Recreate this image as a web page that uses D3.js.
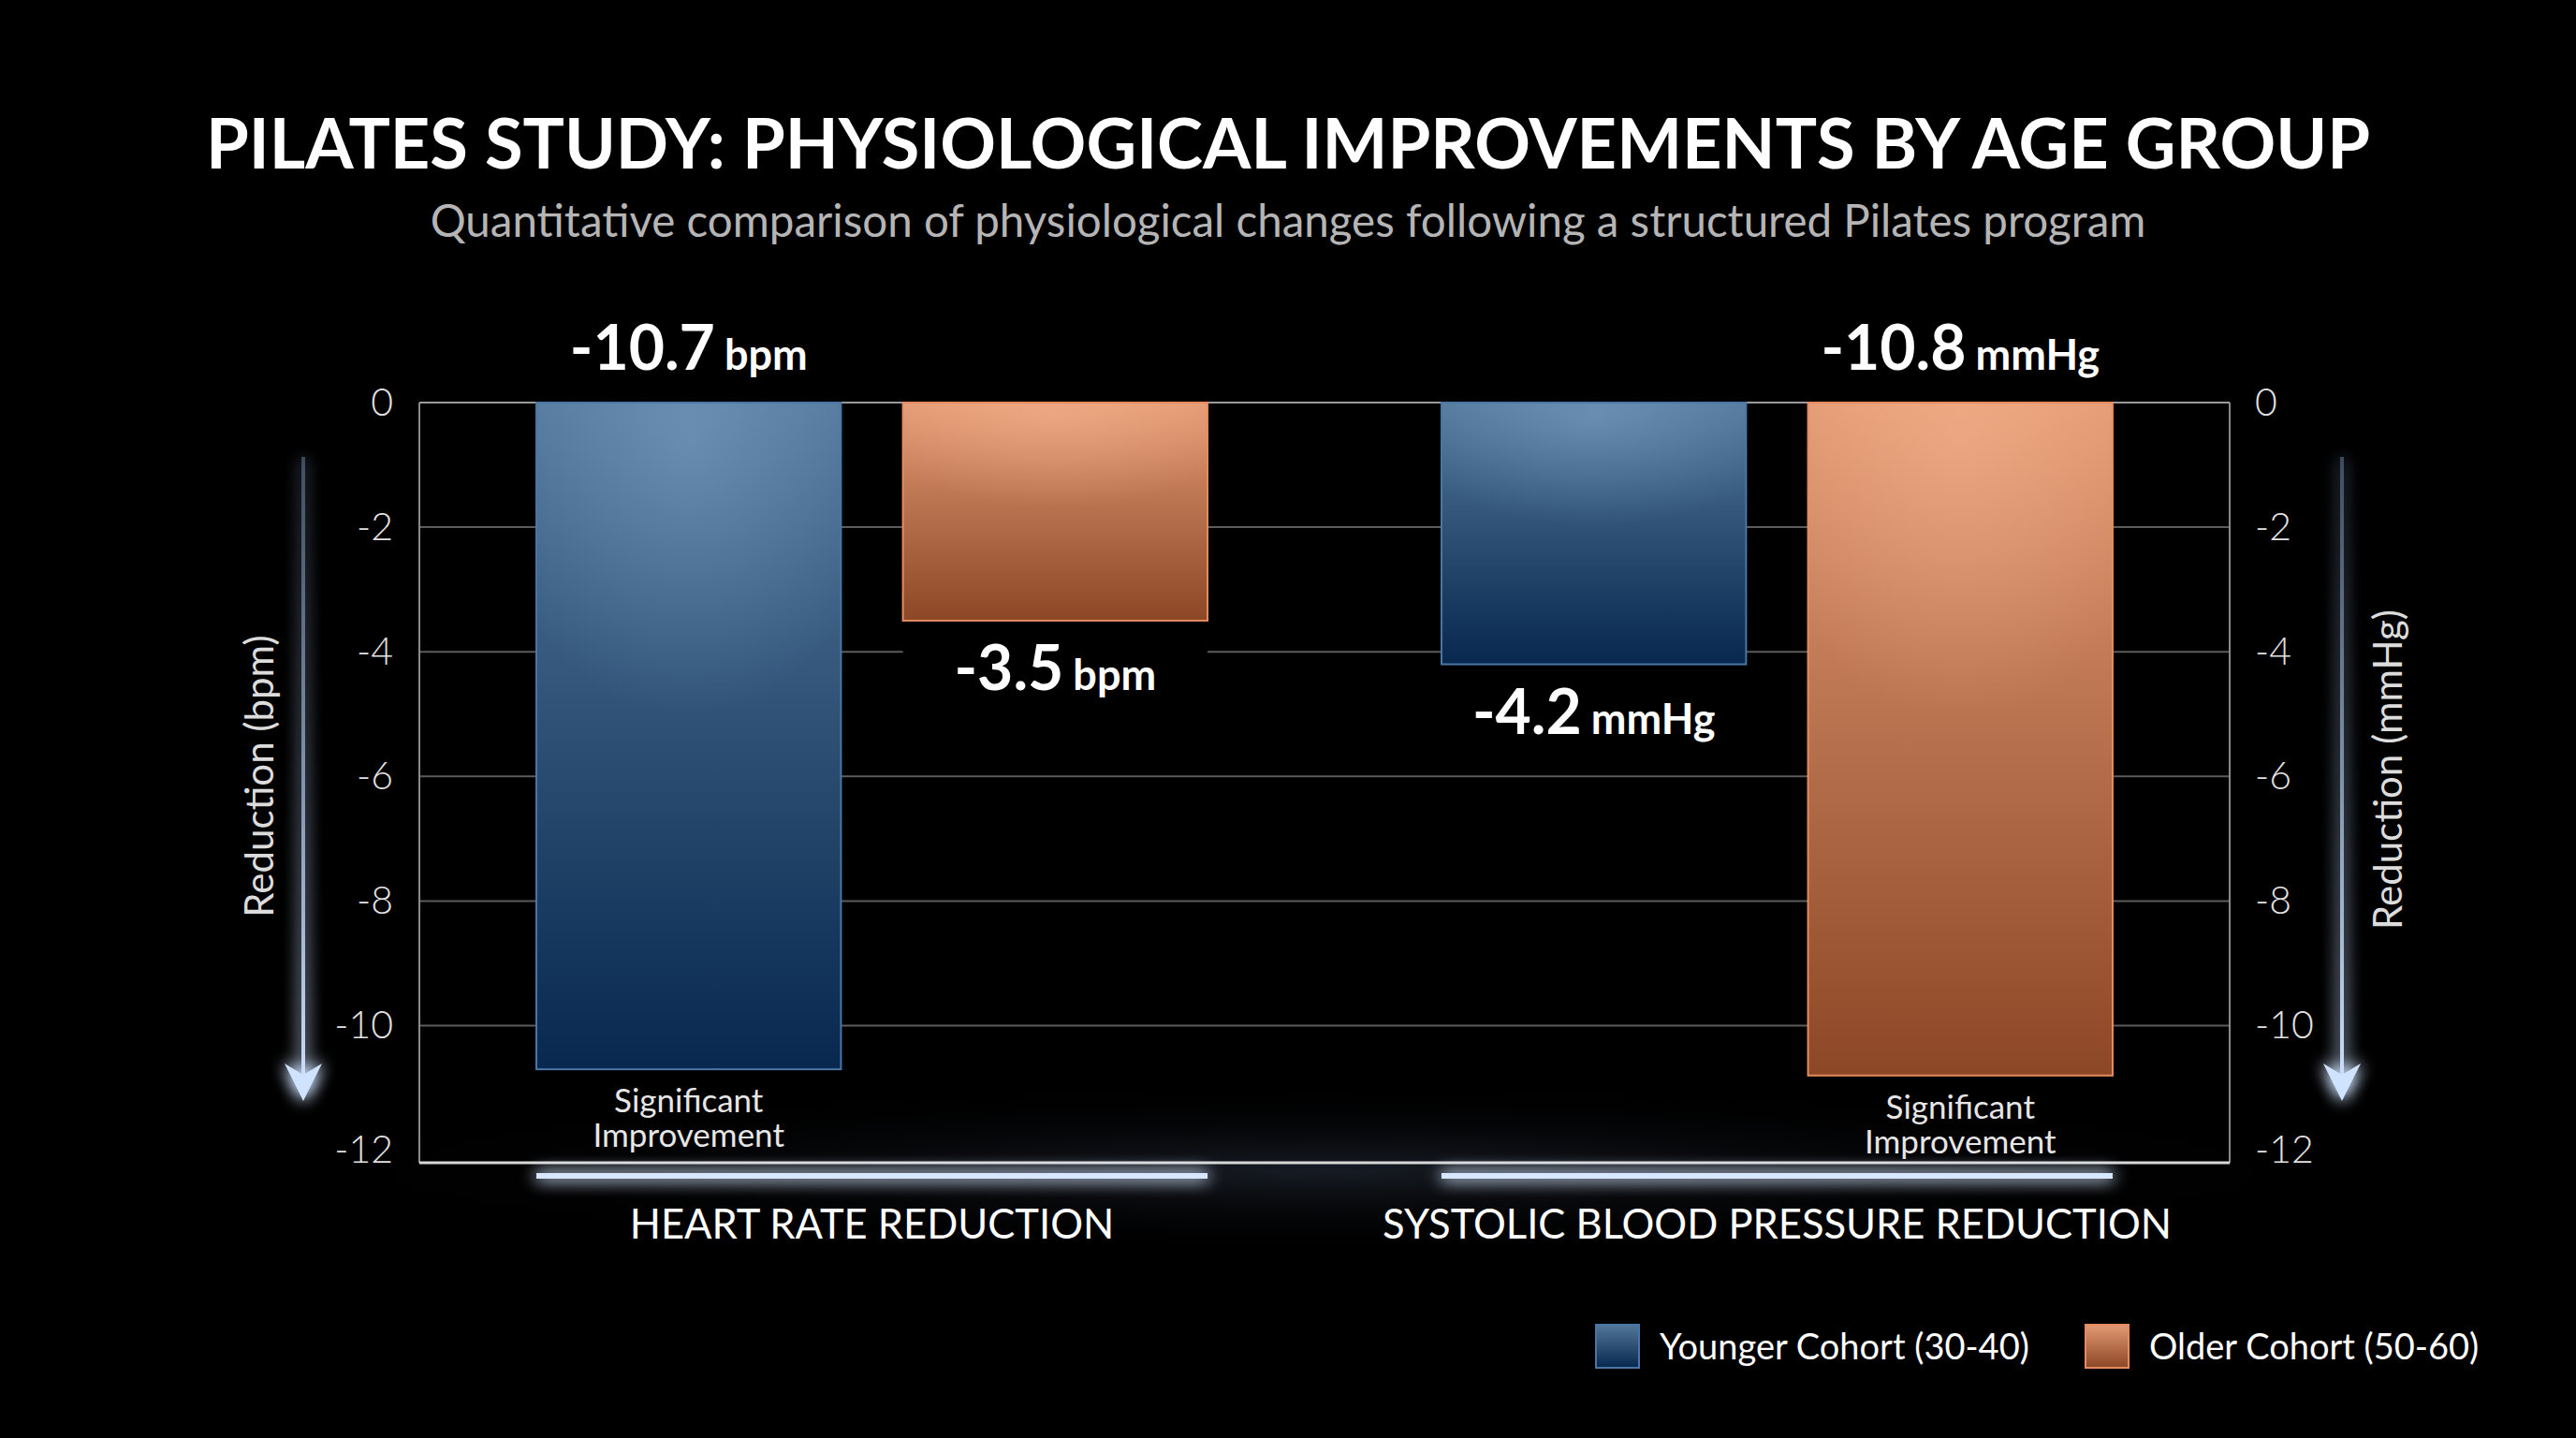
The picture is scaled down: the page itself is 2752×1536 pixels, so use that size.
<!DOCTYPE html>
<html>
<head>
<meta charset="utf-8">
<script src="https://cdn.jsdelivr.net/npm/d3@7"></script>
<style>
  html, body { margin: 0; padding: 0; background: #000; }
  svg { display: block; }
  text { font-family: Lato, "Open Sans", sans-serif; }
</style>
</head>
<body>
<svg id="chart" width="2752" height="1536"></svg>
<script>
// data
var categories = ["HEART RATE REDUCTION", "SYSTOLIC BLOOD PRESSURE REDUCTION"];
var units = ["bpm", "mmHg"];
var cohorts = ["Younger Cohort (30-40)", "Older Cohort (50-60)"];
var younger = [-10.7, -4.2];
var older = [-3.5, -10.8];
var significant = [[true, false], [false, true]]; // [category][cohort]
var yTicks = [0, -2, -4, -6, -8, -10, -12];
var axisTitles = ["Reduction (bpm)", "Reduction (mmHg)"];

var W = 2752, H = 1536;
var plot = {left: 448, right: 2382, top: 430, bottom: 1242};

var svg = d3.select('#chart');
var defs = svg.append('defs');

// gradients for bars
function barGradients(id, top, bottom, hi){
    var lg = defs.append('linearGradient').attr('id', id).attr('x1', 0).attr('y1', 0).attr('x2', 0).attr('y2', 1);
    lg.append('stop').attr('offset', '0%').attr('stop-color', top);
    lg.append('stop').attr('offset', '100%').attr('stop-color', bottom);
    var rg = defs.append('radialGradient').attr('id', id + 'Hi')
        .attr('cx', 0.5).attr('cy', 0.05).attr('r', 0.7)
        .attr('gradientTransform', 'translate(0.5,0.05) scale(1,0.6) translate(-0.5,-0.05)');
    rg.append('stop').attr('offset', '0%').attr('stop-color', hi).attr('stop-opacity', 0.4);
    rg.append('stop').attr('offset', '100%').attr('stop-color', hi).attr('stop-opacity', 0);
}
barGradients('gBlue', '#527799', '#08284f', '#8fb4dc');
barGradients('gOrange', '#e39a74', '#8c4726', '#ffc09c');
var fills = ['gBlue', 'gOrange'];
var strokes = ['#4a76a6', '#e58b5f'];

// glow filter (user space so thin lines keep their halo)
var glow = defs.append('filter').attr('id', 'glow').attr('filterUnits', 'userSpaceOnUse')
    .attr('x', 0).attr('y', 0).attr('width', W).attr('height', H);
glow.append('feGaussianBlur').attr('in', 'SourceGraphic').attr('stdDeviation', 9).attr('result', 'b');
var fm = glow.append('feMerge');
fm.append('feMergeNode').attr('in', 'b');
fm.append('feMergeNode').attr('in', 'b');
fm.append('feMergeNode').attr('in', 'SourceGraphic');

var arrowGrad = defs.append('linearGradient').attr('id', 'gArrow')
    .attr('gradientUnits', 'userSpaceOnUse').attr('x1', 0).attr('y1', 488).attr('x2', 0).attr('y2', 1176);
arrowGrad.append('stop').attr('offset', '0%').attr('stop-color', '#6f86a8').attr('stop-opacity', 0.5);
arrowGrad.append('stop').attr('offset', '100%').attr('stop-color', '#cfe3ff').attr('stop-opacity', 1);

// soft floor glow under the plot
var floorGrad = defs.append('radialGradient').attr('id', 'gFloor').attr('cx', 0.5).attr('cy', 0.5).attr('r', 0.5);
floorGrad.append('stop').attr('offset', '0%').attr('stop-color', '#2a3242').attr('stop-opacity', 0.55);
floorGrad.append('stop').attr('offset', '100%').attr('stop-color', '#000').attr('stop-opacity', 0);
svg.append('ellipse').attr('cx', (plot.left + plot.right) / 2).attr('cy', 1250)
    .attr('rx', 1100).attr('ry', 90).attr('fill', 'url(#gFloor)');

// scales
var y = d3.scaleLinear().domain([-12.2, 0]).range([plot.bottom, plot.top]);
var x0 = d3.scaleBand().domain(categories).range([plot.left, plot.right])
    .paddingInner(0.2585).paddingOuter(0.1293);
var x1 = d3.scaleBand().domain([0, 1]).range([0, x0.bandwidth()]).paddingInner(0.169).paddingOuter(0);

function fmt1(v){ return v.toFixed(1); }

// title
svg.append('text').attr('x', W / 2).attr('y', 180).attr('text-anchor', 'middle')
    .attr('fill', '#fff').style('font-size', '74px').style('font-weight', 700)
    .text('PILATES STUDY: PHYSIOLOGICAL IMPROVEMENTS BY AGE GROUP');
svg.append('text').attr('x', W / 2).attr('y', 253).attr('text-anchor', 'middle')
    .attr('fill', '#b5b5b5').style('font-size', '47.5px').style('font-weight', 400)
    .text('Quantitative comparison of physiological changes following a structured Pilates program');

// gridlines
svg.append('g').selectAll('line')
    .data(yTicks.filter(function(d){ return d < 0 && d > -12; }))
    .enter().append('line')
    .attr('x1', plot.left).attr('x2', plot.right)
    .attr('y1', function(d){ return y(d); }).attr('y2', function(d){ return y(d); })
    .attr('stroke', '#5c5c5c').attr('stroke-width', 2);

// frame
svg.append('line').attr('x1', plot.left).attr('x2', plot.left).attr('y1', plot.top).attr('y2', plot.bottom)
    .attr('stroke', '#8a8a8a').attr('stroke-width', 2);
svg.append('line').attr('x1', plot.right).attr('x2', plot.right).attr('y1', plot.top).attr('y2', plot.bottom)
    .attr('stroke', '#8a8a8a').attr('stroke-width', 2);
svg.append('line').attr('x1', plot.left).attr('x2', plot.right).attr('y1', y(0)).attr('y2', y(0))
    .attr('stroke', '#9a9a9a').attr('stroke-width', 2);
svg.append('line').attr('x1', plot.left).attr('x2', plot.right).attr('y1', plot.bottom).attr('y2', plot.bottom)
    .attr('stroke', '#d8d8d8').attr('stroke-width', 3);

// axes (tick labels only)
function styleAxis(g){
    g.select('.domain').remove();
    g.selectAll('.tick line').remove();
    g.selectAll('.tick text').attr('fill', '#e2e2e2')
        .style('font-size', '41px').style('font-weight', 300)
        .style('font-family', 'Lato, "Open Sans", sans-serif');
}
svg.append('g').attr('transform', 'translate(' + plot.left + ',0)')
    .call(d3.axisLeft(y).tickValues(yTicks).tickSize(0).tickPadding(28).tickFormat(function(d){ return String(d); }))
    .call(styleAxis);
svg.append('g').attr('transform', 'translate(' + plot.right + ',0)')
    .call(d3.axisRight(y).tickValues(yTicks).tickSize(0).tickPadding(27).tickFormat(function(d){ return String(d); }))
    .call(styleAxis);

// axis titles
svg.append('text').attr('transform', 'translate(292,829) rotate(-90)').attr('text-anchor', 'middle')
    .attr('fill', '#dcdcdc').style('font-size', '42px').text(axisTitles[0]);
svg.append('text').attr('transform', 'translate(2566,822) rotate(-90)').attr('text-anchor', 'middle')
    .attr('fill', '#dcdcdc').style('font-size', '42px').text(axisTitles[1]);

// arrows
[324, 2502].forEach(function(ax){
    var g = svg.append('g').attr('filter', 'url(#glow)');
    g.append('line').attr('x1', ax).attr('x2', ax).attr('y1', 488).attr('y2', 1150)
        .attr('stroke', 'url(#gArrow)').attr('stroke-width', 4);
    g.append('path')
        .attr('d', 'M' + (ax - 20) + ',1136 L' + ax + ',1148 L' + (ax + 20) + ',1136 L' + ax + ',1176 Z')
        .attr('fill', '#cfe3ff');
});

// bars
var rows = categories.map(function(c, i){
    return {cat: c, unit: units[i], vals: [younger[i], older[i]], sig: significant[i]};
});

var groups = svg.append('g').selectAll('g').data(rows).enter().append('g')
    .attr('transform', function(d){ return 'translate(' + x0(d.cat) + ',0)'; });

groups.each(function(row){
    var g = d3.select(this);
    row.vals.forEach(function(v, k){
        var bx = x1(k), bw = x1.bandwidth();
        var by = y(0), bh = y(v) - y(0);
        g.append('rect').attr('x', bx).attr('y', by).attr('width', bw).attr('height', bh)
            .attr('fill', 'url(#' + fills[k] + ')').attr('stroke', strokes[k]).attr('stroke-width', 2);
        g.append('rect').attr('x', bx + 1).attr('y', by + 1).attr('width', bw - 2).attr('height', bh - 2)
            .attr('fill', 'url(#' + fills[k] + 'Hi)');

        var cx = bx + bw / 2;
        var lbl;
        if (v < -8) {
            lbl = g.append('text').attr('x', cx).attr('y', y(0) - 35);
        } else {
            g.append('rect').attr('x', bx).attr('y', y(v) + 14).attr('width', bw).attr('height', 60).attr('fill', '#000');
            lbl = g.append('text').attr('x', cx).attr('y', y(v) + 74);
        }
        lbl.attr('text-anchor', 'middle').attr('fill', '#fff').style('font-weight', 700);
        lbl.append('tspan').style('font-size', '66px').text(fmt1(v));
        lbl.append('tspan').style('font-size', '45px').attr('dx', 10).text(row.unit);

        if (row.sig[k]) {
            var s = g.append('text').attr('x', cx).attr('y', y(v) + 46).attr('text-anchor', 'middle')
                .attr('fill', '#e6e6e6').style('font-size', '35px');
            s.append('tspan').attr('x', cx).text('Significant');
            s.append('tspan').attr('x', cx).attr('dy', 37).text('Improvement');
        }
    });
});

// category underline + labels
var catG = svg.append('g').selectAll('g').data(categories).enter().append('g');
catG.append('rect')
    .attr('x', function(d){ return x0(d); }).attr('width', x0.bandwidth())
    .attr('y', 1253).attr('height', 6)
    .attr('fill', '#d6e7ff').attr('filter', 'url(#glow)');
catG.append('text')
    .attr('x', function(d){ return x0(d) + x0.bandwidth() / 2; }).attr('y', 1323)
    .attr('text-anchor', 'middle').attr('fill', '#fff').style('font-size', '43.5px')
    .text(function(d){ return d; });

// legend
var legendX = [1705, 2228];
var leg = svg.append('g').selectAll('g').data(cohorts).enter().append('g')
    .attr('transform', function(d, i){ return 'translate(' + legendX[i] + ',1415)'; });
leg.append('rect').attr('width', 46).attr('height', 46)
    .attr('fill', function(d, i){ return 'url(#' + fills[i] + ')'; })
    .attr('stroke', function(d, i){ return strokes[i]; }).attr('stroke-width', 2);
leg.append('text').attr('x', 68).attr('y', 37).attr('fill', '#fff').style('font-size', '38px')
    .text(function(d){ return d; });
</script>
</body>
</html>
